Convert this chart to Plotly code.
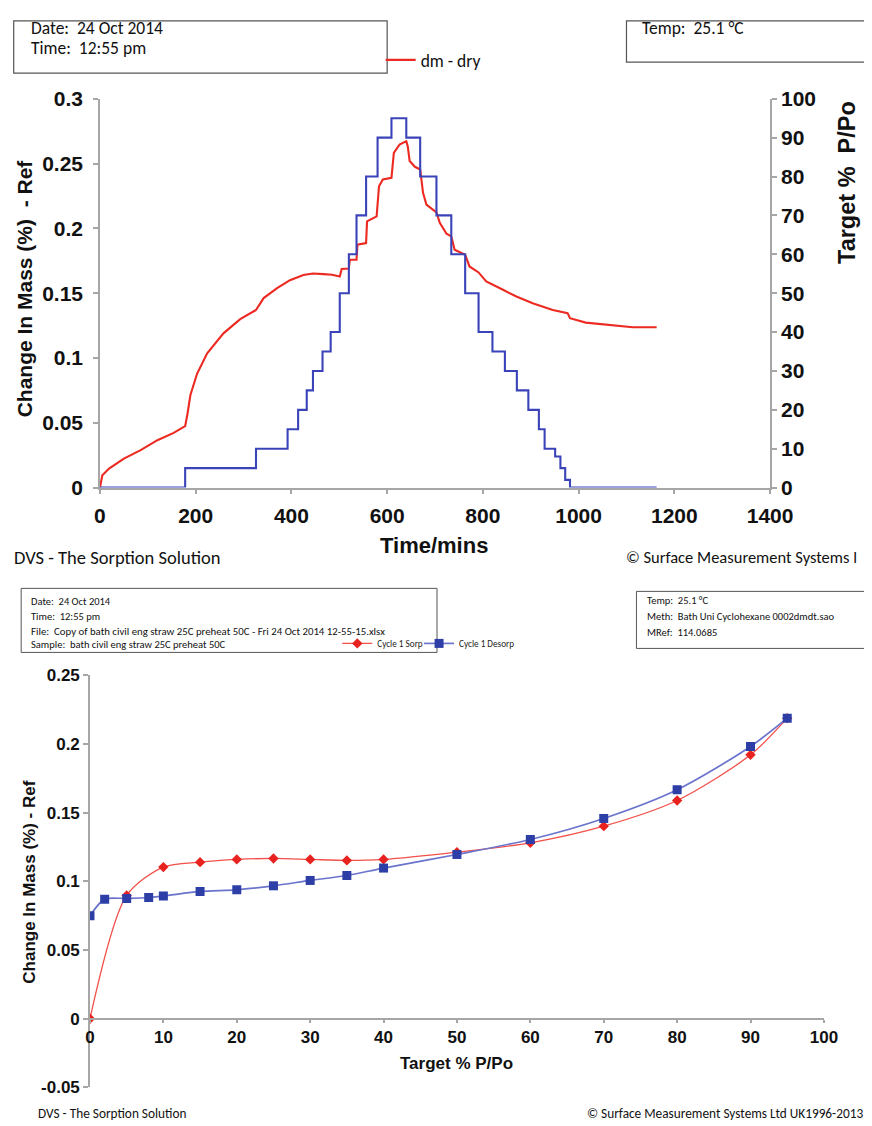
import plotly.graph_objects as go

# ---------------- data: top chart (kinetic plot) ----------------
dm_time = [0, 5, 19, 50, 85, 120, 154, 178, 183, 189, 203, 224, 258, 293, 326, 342, 370, 397, 425,
           445, 467, 485, 501, 505, 520, 522, 536, 538, 556, 558, 578, 583, 591, 609, 614, 626, 640,
           643, 647, 658, 669, 675, 682, 703, 710, 724, 734, 741, 763, 772, 791, 807, 842, 870, 904,
           946, 977, 982, 1015, 1078, 1113, 1163]
dm_dry = [0, 0.0095, 0.0147, 0.0224, 0.0289, 0.0366, 0.0422, 0.0474, 0.0572, 0.0714, 0.088, 0.1036,
          0.119, 0.130, 0.137, 0.1462, 0.1539, 0.160, 0.164, 0.1652, 0.1647, 0.1642, 0.1629, 0.1686,
          0.169, 0.1758, 0.1758, 0.1874, 0.1887, 0.2054, 0.2093, 0.2325, 0.2377, 0.239, 0.2583, 0.2647,
          0.2673, 0.2634, 0.252, 0.2475, 0.2454, 0.2274, 0.2183, 0.2124, 0.2042, 0.1959, 0.1938, 0.1835,
          0.1797, 0.1706, 0.166, 0.159, 0.1526, 0.1474, 0.1423, 0.1371, 0.1346, 0.1307, 0.1273, 0.1247,
          0.1237, 0.1237]

step_time = [0, 178, 326, 392, 414, 432, 445, 465, 482, 501, 520, 536, 556, 580, 609, 640, 669, 703,
             734, 763, 791, 820, 846, 871, 895, 917, 929, 951, 962, 972, 982, 1163]
step_target = [0, 5, 10, 15, 20, 25, 30, 35, 40, 50, 60, 70, 80, 90, 95, 90, 80, 70, 60, 50, 40, 35,
               30, 25, 20, 15, 10, 8, 5, 2, 0, 0]

top_ytick_vals = [0, 0.05, 0.1, 0.15, 0.2, 0.25, 0.3]
top_ytick_text = ["0", "0.05", "0.1", "0.15", "0.2", "0.25", "0.3"]

# ---------------- data: bottom chart (isotherm) ----------------
sorp_x = [0, 5, 10, 15, 20, 25, 30, 35, 40, 50, 60, 70, 80, 90, 95]
sorp_y = [0, 0.0897, 0.1103, 0.1139, 0.1159, 0.1166, 0.1159, 0.1152, 0.1159, 0.1212, 0.128, 0.1401,
          0.1588, 0.192, 0.2187]
desorp_x = [95, 90, 80, 70, 60, 50, 40, 35, 30, 25, 20, 15, 10, 8, 5, 2, 0]
desorp_y = [0.2187, 0.1981, 0.1666, 0.1457, 0.1304, 0.1195, 0.1096, 0.1042, 0.1006, 0.0967, 0.0938,
            0.0926, 0.0892, 0.0882, 0.0875, 0.087, 0.0749]

bot_ytick_vals = [-0.05, 0, 0.05, 0.1, 0.15, 0.2, 0.25]
bot_ytick_text = ["-0.05", "0", "0.05", "0.1", "0.15", "0.2", "0.25"]

# ---------------- page geometry ----------------
# mapping from figure pixels to the photographed picture (measured): R = S*F + B
SX, BX = 0.970, 12.8
SY, BY = 0.979, 20.0
W, H = 886, 1130


def fx(r):
    return ((r - BX) / SX) / W


def fy(r):
    return 1 - ((r - BY) / SY) / H


TOP = 1 - 0.8 / H  # just below the top edge of the figure

AX = "#a6a6a6"
ARIAL = "Liberation Sans, Arial, sans-serif"
NARROW = "Carlito, Liberation Sans Narrow, Arial Narrow, Open Sans, sans-serif"

fig = go.Figure()

fig.add_trace(go.Scatter(x=dm_time, y=dm_dry, mode="lines", name="dm - dry",
                         line=dict(color="#ec2a22", width=2.1), xaxis="x", yaxis="y",
                         legend="legend"))
fig.add_trace(go.Scatter(x=step_time, y=step_target, mode="lines", name="Target",
                         line=dict(color="#3a44b8", width=2.1, shape="hv"), xaxis="x", yaxis="y2",
                         showlegend=False))

fig.add_trace(go.Scatter(x=sorp_x, y=sorp_y, mode="lines+markers", name="Cycle 1 Sorp",
                         line=dict(color="#f2504a", width=1.3, shape="spline", smoothing=0.8),
                         marker=dict(symbol="diamond", size=8, color="#e8231f"),
                         xaxis="x3", yaxis="y3", legend="legend2"))
fig.add_trace(go.Scatter(x=desorp_x, y=desorp_y, mode="lines+markers", name="Cycle 1 Desorp",
                         line=dict(color="#6b74cc", width=1.7, shape="spline", smoothing=0.8),
                         marker=dict(symbol="square", size=9, color="#2d3fa6"),
                         xaxis="x3", yaxis="y3", legend="legend3"))

axis_common = dict(showgrid=False, zeroline=False, showline=True, linecolor=AX, linewidth=1.5,
                   ticks="outside", tickcolor=AX, ticklen=5, tickwidth=1.5)

top_tick_font = dict(size=21, family=ARIAL, color="#111", weight="bold")
bot_tick_font = dict(size=17, family=ARIAL, color="#111", weight="bold")
small_legend_font = dict(size=9.2, family=NARROW, color="#222")

fig.update_layout(
    width=W, height=H, autosize=False,
    margin=dict(l=0, r=0, t=0, b=0),
    paper_bgcolor="white", plot_bgcolor="white",
    font=dict(family=ARIAL, color="#111111"),
    xaxis=dict(domain=[fx(99), fx(771)], range=[0, 1400], dtick=200, anchor="y",
               tickfont=top_tick_font, ticklabelstandoff=3, **axis_common),
    yaxis=dict(domain=[fy(487.3), fy(98.7)], range=[0, 0.3], anchor="x",
               tickvals=top_ytick_vals, ticktext=top_ytick_text, ticklabelstandoff=6,
               tickfont=top_tick_font, **axis_common),
    yaxis2=dict(range=[0, 100], dtick=10, overlaying="y", side="right", anchor="x",
                tickfont=top_tick_font, **axis_common),
    xaxis3=dict(domain=[fx(89), fx(825)], range=[0, 100], dtick=10, anchor="free",
                position=fy(1018.3), tickfont=bot_tick_font,
                **{**axis_common, "ticklen": 3}),
    yaxis3=dict(domain=[fy(1086.7), fy(674.7)], range=[-0.05, 0.25], anchor="x3",
                tickvals=bot_ytick_vals, ticktext=bot_ytick_text,
                tickfont=bot_tick_font, **axis_common),
    legend=dict(x=fx(380.5), y=fy(60), xanchor="left", yanchor="middle",
                bgcolor="rgba(0,0,0,0)", font=dict(size=17.5, family=NARROW, color="#111"),
                itemwidth=30, tracegroupgap=0),
    legend2=dict(x=fx(337), y=fy(643), xanchor="left", yanchor="middle",
                 bgcolor="rgba(0,0,0,0)", font=small_legend_font, itemwidth=30),
    legend3=dict(x=fx(419), y=fy(643), xanchor="left", yanchor="middle",
                 bgcolor="rgba(0,0,0,0)", font=small_legend_font, itemwidth=30),
)

shapes = [
    dict(type="rect", xref="paper", yref="paper", x0=fx(12.5), x1=fx(387), y0=fy(73), y1=TOP,
         line=dict(color="#555", width=1.2)),
    dict(type="rect", xref="paper", yref="paper", x0=fx(627), x1=fx(866), y0=fy(62), y1=TOP,
         line=dict(color="#555", width=1.2)),
    dict(type="rect", xref="paper", yref="paper", x0=fx(20), x1=fx(437), y0=fy(652), y1=fy(588),
         line=dict(color="#555", width=1)),
    dict(type="rect", xref="paper", yref="paper", x0=fx(637), x1=fx(866), y0=fy(648), y1=fy(591),
         line=dict(color="#555", width=1)),
]
fig.update_layout(shapes=shapes)


def ann(text, x, y, size, xanchor="left", family=NARROW, bold=False, angle=0, color="#111"):
    if bold:
        text = "<b>" + text + "</b>"
    return dict(text=text, x=fx(x), y=fy(y), xref="paper", yref="paper", showarrow=False,
                xanchor=xanchor, yanchor="middle", textangle=angle,
                font=dict(size=size, family=family, color=color))


NB = "\u00a0"
annotations = [
    ann("Date:" + NB + " 24 Oct 2014", 28, 28, 17.5),
    ann("Time:" + NB + " 12:55 pm", 28, 48, 17.5),
    ann("Temp:" + NB + " 25.1 °C", 641, 28, 17.5),
    ann("Change In Mass (%)" + NB + " - Ref", 23, 288, 21, "center", ARIAL, True, -90),
    ann("Target %" + NB + " P/Po", 848, 182, 23.5, "center", ARIAL, True, -90),
    ann("Time/mins", 434, 545, 22, "center", ARIAL, True),
    ann("DVS - The Sorption Solution", 11, 557, 18.5),
    ann("© Surface Measurement Systems l", 860, 557, 16.5, "right"),
    ann("Date:" + NB + " 24 Oct 2014", 28, 601, 10.5),
    ann("Time:" + NB + " 12:55 pm", 28, 616, 10.5),
    ann("File:" + NB + " Copy of bath civil eng straw 25C preheat 50C - Fri 24 Oct 2014 12-55-15.xlsx", 28, 631, 10.8),
    ann("Sample:" + NB + " bath civil eng straw 25C preheat 50C", 28, 644, 10.5),
    ann("Temp:" + NB + " 25.1 °C", 646, 600, 10.5),
    ann("Meth:" + NB + " Bath Uni Cyclohexane 0002dmdt.sao", 646, 616, 10.5),
    ann("MRef:" + NB + " 114.0685", 646, 632, 10.5),
    ann("Change In Mass (%) - Ref", 28, 882, 17, "center", ARIAL, True, -90),
    ann("Target % P/Po", 457, 1063, 17, "center", ARIAL, True),
    ann("DVS - The Sorption Solution", 35, 1113, 13.3),
    ann("© Surface Measurement Systems Ltd UK1996-2013", 866, 1113, 13.3, "right"),
]
fig.update_layout(annotations=annotations)

fig.write_html("out.html")
